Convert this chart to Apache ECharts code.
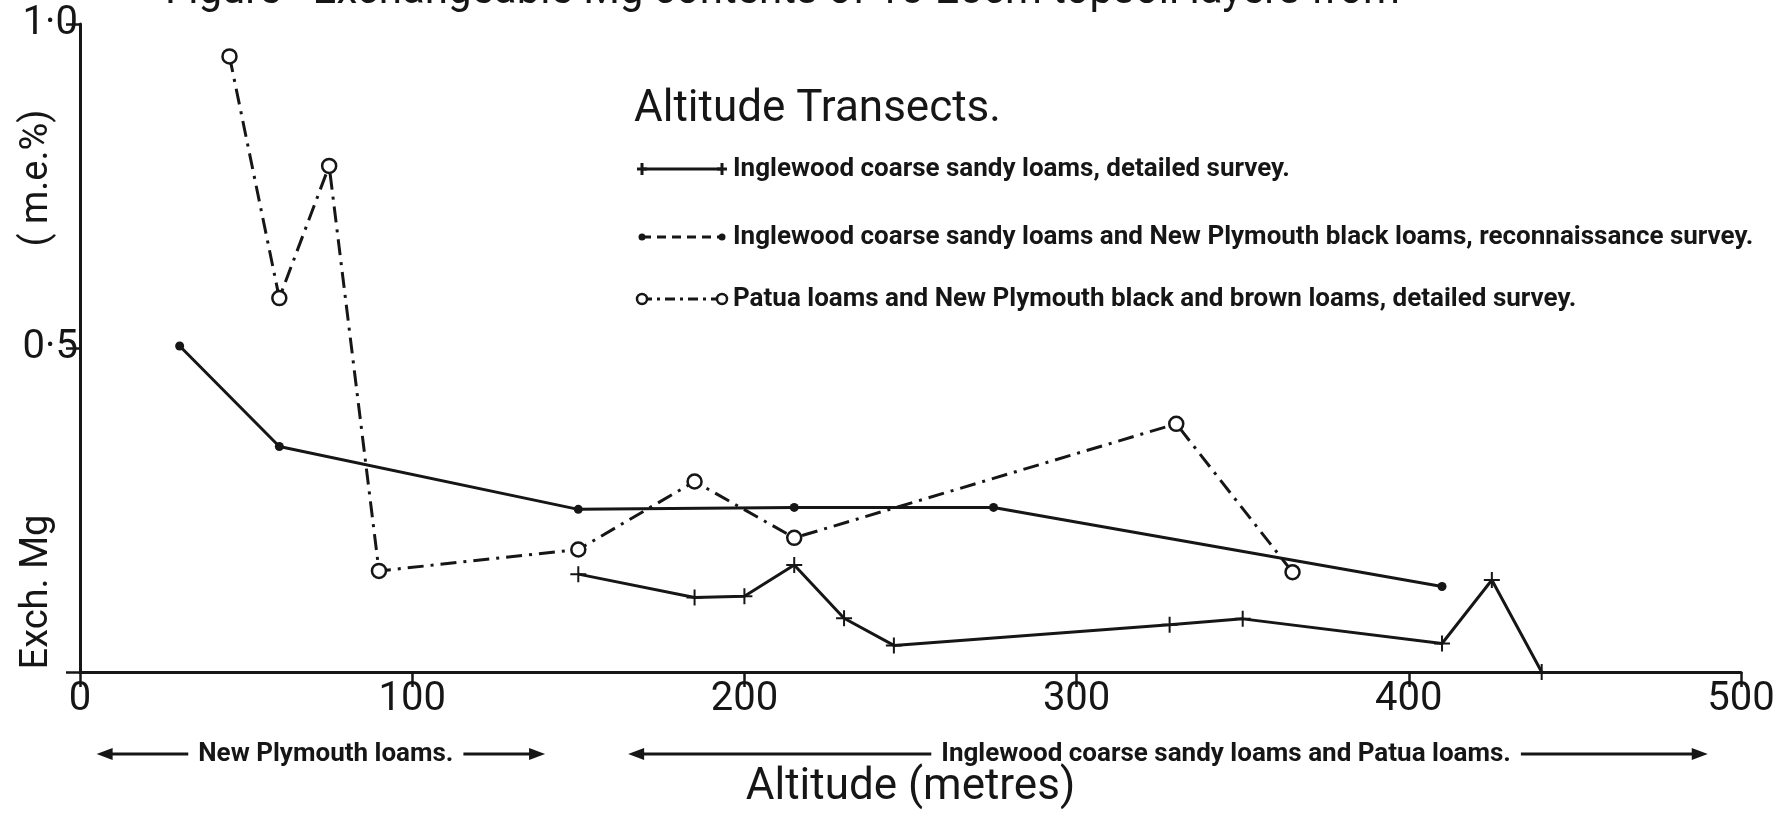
<!DOCTYPE html>
<html>
<head>
<meta charset="utf-8">
<title>Exch. Mg - altitude transects</title>
<script src="https://cdn.jsdelivr.net/npm/echarts@6/dist/echarts.min.js"></script>
<style>
	html, body { margin: 0; padding: 0; background: #fff; }
	#chart { width: 1790px; height: 815px; }
</style>
</head>
<body>
<div id="chart"></div>
<script>
	// altitude (m) and exch. Mg (m.e.%)
	var altPlus = [150, 185, 200, 215, 230, 245, 328, 350, 410, 425, 440];
	var mgPlus = [0.151, 0.115, 0.117, 0.165, 0.083, 0.041, 0.073, 0.082, 0.044, 0.142, 0];
	var altDot = [30, 60, 150, 215, 275, 410];
	var mgDot = [0.503, 0.348, 0.251, 0.254, 0.254, 0.132];
	var altCircle = [45, 60, 75, 90, 150, 185, 215, 330, 365];
	var mgCircle = [0.95, 0.577, 0.781, 0.156, 0.189, 0.294, 0.207, 0.383, 0.154];

	var yTickLabels = {'0.5': '0·5', '1': '1·0'};
	var seriesNames = [
		'Inglewood coarse sandy loams, detailed survey.',
		'Inglewood coarse sandy loams and New Plymouth black loams, reconnaissance survey.',
		'Patua loams and New Plymouth black and brown loams, detailed survey.'
	];
	var zoneNames = ['New Plymouth loams.', 'Inglewood coarse sandy loams and Patua loams.'];
	var zoneFrom = [5, 165];
	var zoneTo = [140, 490];
	var zoneTextAt = [74, 345];

	var ink = '#161616';
	var font = 'Roboto, "DejaVu Sans", sans-serif';
	var plus = 'path://M7,0 L9,0 L9,7 L16,7 L16,9 L9,9 L9,16 L7,16 L7,9 L0,9 L0,7 L7,7 Z';

	function pairs(xs, ys){
		return xs.map(function(x, i){ return [x, ys[i]]; });
	}

	var chart = echarts.init(document.getElementById('chart'));

	chart.setOption({
		animation: false,
		backgroundColor: '#fff',
		grid: {left: 80, right: 49, top: 24, bottom: 138},
		xAxis: {
			type: 'value', min: 0, max: 500, interval: 100,
			name: 'Altitude (metres)', nameLocation: 'middle', nameGap: 94,
			nameTextStyle: {fontFamily: font, fontSize: 44, color: ink},
			axisLine: {lineStyle: {color: ink, width: 3}},
			axisTick: {length: 15, lineStyle: {color: ink, width: 2.5}},
			axisLabel: {fontFamily: font, fontSize: 40, color: ink, margin: 8},
			splitLine: {show: false}
		},
		yAxis: {
			type: 'value', min: 0, max: 1, interval: 0.5,
			axisLine: {show: true, lineStyle: {color: ink, width: 3}},
			axisTick: {show: true, length: 14, lineStyle: {color: ink, width: 2.5}},
			axisLabel: {
				fontFamily: font, fontSize: 40, color: ink, margin: 2,
				formatter: function(v){ return yTickLabels[String(v)] || ''; }
			},
			splitLine: {show: false}
		},
		series: [
			{
				name: seriesNames[0], type: 'line', data: pairs(altPlus, mgPlus),
				symbol: plus, symbolSize: 16,
				lineStyle: {color: ink, width: 3}, itemStyle: {color: ink}
			},
			{
				name: seriesNames[1], type: 'line', data: pairs(altDot, mgDot),
				symbol: 'circle', symbolSize: 9,
				lineStyle: {color: ink, width: 3}, itemStyle: {color: ink}
			},
			{
				name: seriesNames[2], type: 'line', data: pairs(altCircle, mgCircle),
				symbol: 'circle', symbolSize: 14, z: 3,
				lineStyle: {color: ink, width: 3, type: [16, 7, 3, 7]},
				itemStyle: {color: '#fff', borderColor: ink, borderWidth: 2.5}
			}
		]
	});

	// legend, titles and the soil zone arrows
	var g = [];
	function txt(x, y, s, size, extra){
		var o = {type: 'text', x: x, y: y, silent: true,
			style: {text: s, fill: ink, fontSize: size, fontFamily: font, textVerticalAlign: 'middle'}};
		if(extra) for(var k in extra) o.style[k] = extra[k];
		return o;
	}
	function seg(x1, y1, x2, y2, dash){
		return {type: 'line', silent: true, shape: {x1: x1, y1: y1, x2: x2, y2: y2},
			style: {stroke: ink, lineWidth: 3, lineDash: dash || null}};
	}

	g.push(txt(165, 13, 'Figure   Exchangeable Mg contents of 10-20cm topsoil layers from', 42,
		{textVerticalAlign: 'bottom'}));

	g.push({type: 'text', x: 37, y: 592, rotation: Math.PI / 2, silent: true,
		style: {text: 'Exch. Mg', fill: ink, fontSize: 38, fontFamily: font, textAlign: 'center', textVerticalAlign: 'middle'}});
	g.push({type: 'text', x: 37, y: 178, rotation: Math.PI / 2, silent: true,
		style: {text: '( m.e.%)', fill: ink, fontSize: 38, fontFamily: font, textAlign: 'center', textVerticalAlign: 'middle'}});

	g.push(txt(634, 110, 'Altitude Transects.', 44));

	var rows = [169, 237, 299];
	var lx1 = 642, lx2 = 722;
	g.push(seg(lx1, rows[0], lx2, rows[0]));
	g.push(seg(lx1, rows[1], lx2, rows[1], [9, 6]));
	g.push(seg(lx1, rows[2], lx2, rows[2], [10, 5, 3, 5]));
	[lx1, lx2].forEach(function(x){
		g.push(seg(x - 5, rows[0], x + 5, rows[0]));
		g.push(seg(x, rows[0] - 6, x, rows[0] + 6));
		g.push({type: 'circle', silent: true, shape: {cx: x, cy: rows[1], r: 3.5}, style: {fill: ink}});
		g.push({type: 'circle', silent: true, shape: {cx: x, cy: rows[2], r: 5},
			style: {fill: '#fff', stroke: ink, lineWidth: 2.5}});
	});
	seriesNames.forEach(function(s, i){
		g.push(txt(733, rows[i], s, 26, {fontWeight: 'bold'}));
	});

	var zy = 754;
	zoneNames.forEach(function(s, i){
		var a = chart.convertToPixel({xAxisIndex: 0}, zoneFrom[i]);
		var b = chart.convertToPixel({xAxisIndex: 0}, zoneTo[i]);
		var c = chart.convertToPixel({xAxisIndex: 0}, zoneTextAt[i]);
		g.push(seg(a + 6, zy, b - 6, zy));
		g.push({type: 'polygon', silent: true, shape: {points: [[a, zy], [a + 16, zy - 6], [a + 16, zy + 6]]}, style: {fill: ink}});
		g.push({type: 'polygon', silent: true, shape: {points: [[b, zy], [b - 16, zy - 6], [b - 16, zy + 6]]}, style: {fill: ink}});
		g.push(txt(c, zy, s, 26, {textAlign: 'center', fontWeight: 'bold',
			backgroundColor: '#fff', padding: [0, 10]}));
	});

	chart.setOption({graphic: g});
</script>
</body>
</html>
